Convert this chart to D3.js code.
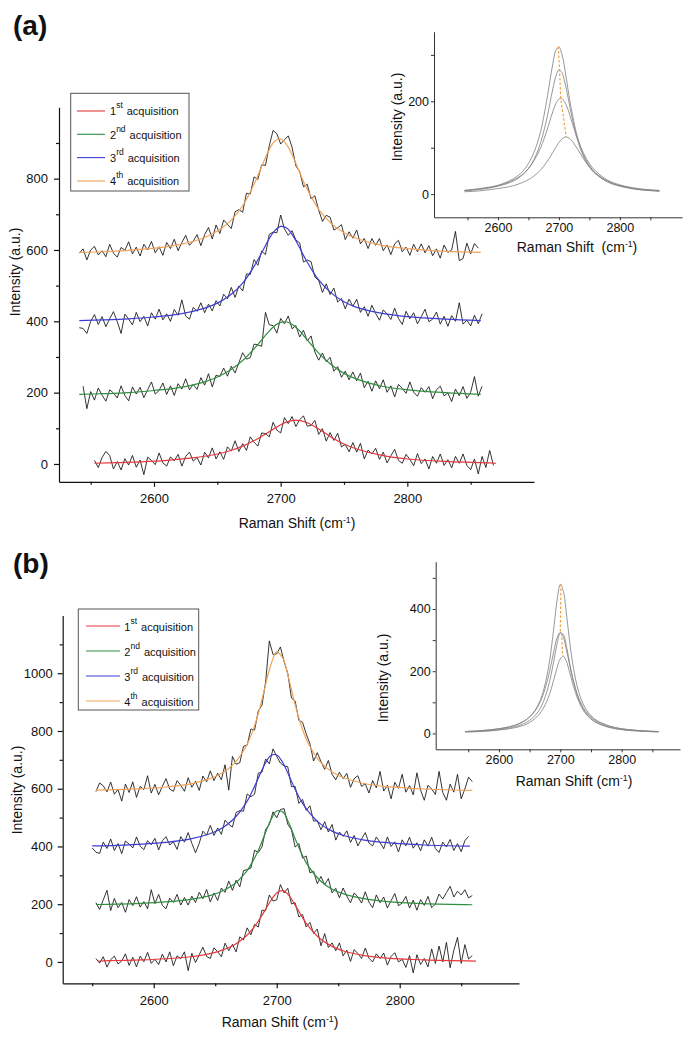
<!DOCTYPE html>
<html><head><meta charset="utf-8">
<script src="https://cdn.jsdelivr.net/npm/d3@7"></script>
<style>body{margin:0;background:#fff}svg{display:block}</style>
</head><body><svg id="c" width="685" height="1050"></svg>
<script>
// ---------- DATA ----------
const rawStep = 3;
// Panel (a) measured spectra (black), start wavenumber + intensities
const rawA1X0 = 2553;
const rawA1 = [10,-10,18,35,24,-14,7,-17,15,-3,24,-9,11,-30,19,10,-2,31,3,-6,20,9,27,-6,21,33,8,18,-3,33,17,45,14,34,13,48,36,65,35,57,38,76,61,50,87,85,76,117,95,87,130,113,133,105,124,135,106,108,122,83,99,64,88,66,86,48,55,34,60,33,58,14,39,28,44,13,33,3,23,41,10,2,27,13,-5,29,1,14,-14,21,2,28,-4,12,-11,21,2,28,-4,-16,14,-28,21,-10,38,-4];
const rawA2X0 = 2544;
const rawA2 = [218,155,203,179,213,193,176,208,199,185,219,192,177,216,196,215,186,208,230,196,206,227,195,219,192,225,210,239,208,223,209,242,221,253,216,249,245,269,246,274,255,284,312,294,298,336,334,330,425,390,388,367,408,393,415,379,388,356,375,345,359,314,291,311,287,299,260,273,243,260,236,258,233,255,214,232,204,233,211,236,201,219,188,223,212,198,230,201,190,214,201,217,183,208,218,191,199,175,210,191,217,184,201,245,190,218];
const rawA3X0 = 2541;
const rawA3 = [382,380,366,400,419,391,413,385,407,427,399,366,420,406,390,425,399,414,387,424,406,434,404,421,400,433,417,460,415,406,439,428,452,424,448,429,458,443,476,463,495,467,499,485,533,531,573,557,597,587,644,650,648,698,659,641,654,628,620,566,572,567,524,515,481,505,475,493,454,464,435,462,442,462,425,441,414,445,422,403,432,421,405,437,408,391,428,407,424,393,413,434,399,406,426,392,414,386,416,400,452,392,403,387,417,393,421];
const rawA4X0 = 2541;
const rawA4 = [591,603,572,600,610,586,598,581,616,591,580,607,599,623,589,608,583,616,600,624,592,609,585,621,604,630,598,621,641,613,625,643,612,643,663,631,670,646,684,672,660,707,713,706,759,757,805,798,839,837,892,935,926,897,909,920,888,836,820,777,784,743,752,712,680,697,692,656,662,671,629,651,633,656,617,632,604,632,613,632,598,614,587,617,627,595,608,585,616,595,617,592,612,584,603,577,614,593,600,652,570,576,619,589,618,605];

// Panel (b) measured spectra (black)
const rawB1X0 = 2553;
const rawB1 = [12,-4,18,-18,8,20,-7,3,28,-12,16,-17,20,1,33,-5,9,-9,27,0,35,-13,21,11,35,-30,30,-2,25,51,19,12,49,35,18,65,39,61,35,87,76,118,94,130,121,179,178,232,211,215,268,239,255,201,205,156,164,121,137,99,114,56,98,50,66,39,66,21,41,2,43,29,12,48,13,0,28,12,31,-11,19,32,0,9,-19,22,-38,25,-9,12,-17,45,-5,55,0,68,-20,40,85,-5,60,10,22];
const rawB2X0 = 2553;
const rawB2 = [205,182,215,248,178,220,188,206,172,216,195,226,190,209,184,250,202,234,196,184,221,206,234,197,223,197,228,206,241,219,251,208,239,213,256,241,280,248,283,260,316,320,325,387,379,398,459,476,520,499,528,531,477,458,398,410,360,367,309,314,271,296,267,289,239,255,222,256,228,205,239,225,204,243,207,188,232,205,225,187,212,237,195,204,227,187,214,179,216,196,227,188,201,235,218,240,262,225,245,232,250,222,230];
const rawB3X0 = 2550;
const rawB3 = [395,380,376,415,393,426,386,410,375,419,408,395,433,401,389,420,406,428,388,420,434,405,416,390,434,415,448,411,378,411,453,439,473,438,464,442,491,477,467,518,524,522,582,572,581,654,657,703,686,738,712,689,679,676,607,608,549,563,525,541,488,489,458,486,450,476,422,450,435,454,414,438,402,426,448,412,402,433,414,392,433,400,416,381,423,402,432,394,413,385,423,401,432,393,379,415,398,424,386,410,382,420,435];
const rawB4X0 = 2553;
const rawB4 = [590,620,610,589,623,581,597,557,616,587,624,570,608,597,645,585,615,579,608,635,599,591,628,612,591,638,605,626,594,644,624,662,628,654,631,683,595,712,685,690,747,751,807,803,869,889,970,1112,1065,1067,1091,1040,1000,914,904,837,830,790,756,696,725,694,667,698,650,631,657,635,653,605,635,645,608,617,585,628,603,660,592,612,565,622,601,650,588,611,579,655,595,560,612,599,580,660,587,560,616,588,650,565,599,640,625];

// Lorentzian fits
const fitAX = [2541,2560,2580,2600,2620,2640,2650,2660,2670,2680,2685,2690,2695,2700,2705,2710,2715,2720,2730,2740,2750,2760,2780,2800,2830,2858];
const fitA4 = [593,595,599,605,615,635,653,680,724,792,834,874,904,911,894,859,817,777,714,674,648,632,613,604,596,593];
const fitA3 = [402,404,407,412,420,437,451,473,507,560,592,626,653,666,661,638,606,572,516,479,455,439,422,413,406,402];
const fitA2 = [195,197,200,206,214,230,244,263,290,327,348,369,387,397,398,389,373,352,311,278,254,238,218,208,200,195];
const fitA1X = [2553,2570,2590,2610,2630,2650,2660,2670,2680,2690,2700,2705,2712,2720,2730,2740,2750,2760,2780,2800,2830,2870];
const fitA1 = [2,4,6,10,17,28,37,50,67,88,110,118,123,117,98,75,56,42,24,14,7,2];

// Lorentzian fits
const fitBX = [2553,2570,2590,2610,2630,2645,2655,2665,2675,2680,2685,2690,2695,2700,2705,2710,2715,2720,2725,2735,2745,2755,2770,2790,2820,2859];
const fitB4 = [595,597,600,606,617,634,653,685,746,794,860,943,1026,1074,1052,978,891,818,763,695,658,637,619,607,599,594];
const fitB2 = [199,200,203,208,217,229,244,268,311,344,386,438,490,523,519,480,427,377,336,283,252,235,220,209,202,198];
const fitB3X = [2550,2570,2590,2610,2630,2645,2655,2665,2675,2680,2685,2690,2695,2700,2705,2710,2715,2720,2725,2735,2745,2755,2770,2790,2820,2857];
const fitB3 = [402,404,408,414,426,443,462,495,550,590,636,682,714,717,690,645,598,557,525,480,453,437,423,413,405,401];
const fitB1X = [2555,2570,2590,2610,2630,2645,2655,2665,2675,2680,2685,2690,2695,2700,2705,2710,2715,2720,2725,2735,2745,2755,2770,2790,2820,2862];
const fitB1 = [3,5,7,11,18,28,40,58,89,112,141,175,211,239,247,230,197,161,128,81,54,37,23,13,7,3];

// Inset (a): baseline-subtracted fits
const insetAX = [2545,2570,2600,2625,2640,2650,2660,2670,2680,2685,2690,2695,2700,2705,2710,2715,2720,2730,2740,2750,2760,2780,2800,2830,2865];
const insetA4 = [8,12,19,33,48,66,93,135,202,242,281,310,317,301,267,225,186,125,86,62,46,28,18,11,7];
const insetA3 = [7,10,17,28,41,55,77,111,162,194,227,254,268,262,239,208,175,119,82,59,44,26,17,10,7];
const insetA2 = [8,11,18,30,42,55,74,100,136,157,178,195,205,206,197,182,161,121,89,66,50,30,20,12,8];
const insetA1 = [5,7,12,18,25,31,40,52,69,79,90,101,111,119,123,122,117,98,77,58,44,27,18,10,6];
const peakAX = [2699,2701,2703,2712];
const peakAY = [318,268,207,123];

// Inset (b)
const insetBX = [2545,2570,2600,2625,2640,2650,2660,2670,2680,2685,2690,2695,2700,2705,2710,2715,2720,2730,2740,2750,2760,2780,2800,2830,2860];
const insetB4 = [6,9,15,25,38,53,78,121,203,268,349,432,479,457,384,299,227,133,84,57,41,24,15,9,6];
const insetB3 = [6,9,15,26,39,53,75,114,178,222,269,309,325,309,269,222,178,114,75,53,39,23,15,9,6];
const insetB2 = [5,7,12,21,31,42,60,91,147,189,239,290,322,318,280,228,180,110,71,48,35,20,13,8,5];
const insetB1 = [5,6,11,18,26,35,50,73,113,142,177,213,240,248,231,198,162,103,67,46,33,19,12,7,5];
const peakBX = [2701,2700,2702,2704];
const peakBY = [480,327,323,248];

// Axis ticks / labels
const ticksXMajor = [2600,2700,2800];
const ticksXMinor = [2550,2650,2750,2850];
const ticksAYMajor = [0,200,400,600,800];
const ticksAYMinor = [100,300,500,700,900];
const ticksBYMajor = [0,200,400,600,800,1000];
const ticksBYMinor = [100,300,500,700,900,1100];
const ticksIAYMajor = [0,200], ticksIAYMinor = [100,300];
const ticksIBYMajor = [0,200,400], ticksIBYMinor = [100,300,500];
const legendLabels = [["1","st"],["2","nd"],["3","rd"],["4","th"]];
const fitColors = ["#e8383d","#2f8f3f","#3c3cd4","#f2a257"];

// ---------- DRAWING ----------
const FONT = '"Liberation Sans", Arial, Helvetica, sans-serif';
const svg = d3.select("#c").style("font-family", FONT);
const fmt = d3.format("d");

function styleAxis(g, fs, sw, col){
  g.attr("font-family", FONT).attr("font-size", fs);
  g.selectAll("path.domain").attr("stroke", col).attr("stroke-width", sw);
  g.selectAll("line").attr("stroke", col).attr("stroke-width", sw);
  g.selectAll("text").attr("fill", "#111");
}
function axes(x, y, yMaj, yMin, o){
  const gy = svg.append("g").attr("transform", `translate(${x.range()[0]},0)`);
  gy.call(d3.axisLeft(y).tickValues(yMaj).tickFormat(fmt).tickSize(o.tk).tickSizeOuter(0).tickPadding(o.pad));
  styleAxis(gy, o.fs, o.sw, o.col);
  const gy2 = svg.append("g").attr("transform", `translate(${x.range()[0]},0)`);
  gy2.call(d3.axisLeft(y).tickValues(yMin).tickSize(o.tkm).tickFormat(""));
  gy2.select("path.domain").remove(); styleAxis(gy2, o.fs, o.sw, o.col);
  const gx = svg.append("g").attr("transform", `translate(0,${y.range()[0]})`);
  gx.call(d3.axisBottom(x).tickValues(ticksXMajor).tickFormat(fmt).tickSize(o.tk).tickSizeOuter(0).tickPadding(o.padx));
  styleAxis(gx, o.fs, o.sw, o.col);
  const gx2 = svg.append("g").attr("transform", `translate(0,${y.range()[0]})`);
  gx2.call(d3.axisBottom(x).tickValues(ticksXMinor).tickSize(o.tkm).tickFormat(""));
  gx2.select("path.domain").remove(); styleAxis(gx2, o.fs, o.sw, o.col);
}
function rawLine(x, y, x0, vals){
  const line = d3.line().x((d,i)=>x(x0 + rawStep*i)).y(d=>y(d));
  svg.append("path").datum(vals).attr("d", line).attr("fill","none")
     .attr("stroke","#111").attr("stroke-width",0.85).attr("stroke-linejoin","round");
}
function fitLine(x, y, xs, ys, color, w){
  const line = d3.line().x((d,i)=>x(xs[i])).y(d=>y(d)).curve(d3.curveCatmullRom.alpha(0.5));
  svg.append("path").datum(ys).attr("d", line).attr("fill","none")
     .attr("stroke",color).attr("stroke-width",w);
}
function ytitle(cx, cy, fs){
  svg.append("text").attr("transform",`translate(${cx},${cy}) rotate(-90)`)
     .attr("text-anchor","middle").attr("dy","0.35em").attr("font-size",fs).attr("fill","#111")
     .text("Intensity (a.u.)");
}
function xtitle(cx, by, fs, dbl){
  const t = svg.append("text").attr("x",cx).attr("y",by).attr("text-anchor","middle")
     .attr("font-size",fs).attr("fill","#111");
  t.append("tspan").text(dbl ? "Raman Shift\u00a0\u00a0(cm" : "Raman Shift (cm");
  t.append("tspan").attr("dy",-5).attr("font-size",fs*0.62).text("-1");
  t.append("tspan").attr("dy",5).text(")");
}
function legend(bx, by, bw, bh, ys, lx0, lx1, tx, dyT){
  svg.append("rect").attr("x",bx).attr("y",by).attr("width",bw).attr("height",bh)
     .attr("fill","#fff").attr("stroke","#555").attr("stroke-width",1);
  ys.forEach((yy,i)=>{
    svg.append("line").attr("x1",lx0).attr("x2",lx1).attr("y1",yy).attr("y2",yy)
       .attr("stroke",fitColors[i]).attr("stroke-width",1.1);
    const t = svg.append("text").attr("x",tx).attr("y",yy+dyT).attr("font-size",11).attr("fill","#111");
    t.append("tspan").text(legendLabels[i][0]);
    t.append("tspan").attr("dy",-7).attr("font-size",8.5).text(legendLabels[i][1]);
    t.append("tspan").attr("dy",7).attr("dx",4).text("acquisition");
  });
}
function inset(x, y, yMaj, yMin, curves, xs, px, py){
  axes(x, y, yMaj, yMin, {tk:3, tkm:3, pad:2, padx:3, fs:12.5, sw:1, col:"#333"});
  curves.forEach(c => fitLine(x, y, xs, c, "#858585", 0.85));
  const dl = d3.line().x((d,i)=>x(px[i])).y(d=>y(d));
  svg.append("path").datum(py).attr("d", dl).attr("fill","none")
     .attr("stroke","#f0a040").attr("stroke-width",1.2).attr("stroke-dasharray","2.5,2");
}

// Panel labels
svg.append("text").attr("x",13).attr("y",35).attr("font-size",28).attr("font-weight","bold").attr("fill","#111").text("(a)");
svg.append("text").attr("x",13).attr("y",573).attr("font-size",28).attr("font-weight","bold").attr("fill","#111").text("(b)");

// ----- Panel (a) main -----
{
  const x = d3.scaleLinear().domain([2525,2900]).range([59,534]);
  const y = d3.scaleLinear().domain([-50,1000]).range([481.8,107.3]);
  axes(x, y, ticksAYMajor, ticksAYMinor, {tk:5, tkm:3, pad:6, padx:7, fs:13, sw:1.2, col:"#111"});
  rawLine(x,y,rawA1X0,rawA1); rawLine(x,y,rawA2X0,rawA2); rawLine(x,y,rawA3X0,rawA3); rawLine(x,y,rawA4X0,rawA4);
  fitLine(x,y,fitA1X,fitA1,fitColors[0],1.2);
  fitLine(x,y,fitAX,fitA2,fitColors[1],1.2);
  fitLine(x,y,fitAX,fitA3,fitColors[2],1.2);
  fitLine(x,y,fitAX,fitA4,fitColors[3],1.2);
  ytitle(15,272,14); xtitle(297,528,14,false);
  legend(70.7,93.3,118.3,97.7,[111,134.3,157.6,181],77,105,110,4.3);
}
// ----- Panel (a) inset -----
{
  const x = d3.scaleLinear().domain([2495,2902]).range([434,682]);
  const y = d3.scaleLinear().domain([-50,350]).range([217.3,31.7]);
  inset(x, y, ticksIAYMajor, ticksIAYMinor, [insetA1,insetA2,insetA3,insetA4], insetAX, peakAX, peakAY);
  ytitle(397,117,14); xtitle(577,252,14,true);
}
// ----- Panel (b) main -----
{
  const x = d3.scaleLinear().domain([2526,2897]).range([62.7,519]);
  const y = d3.scaleLinear().domain([-74,1200]).range([983.3,615.5]);
  axes(x, y, ticksBYMajor, ticksBYMinor, {tk:5, tkm:3, pad:5, padx:7, fs:13, sw:1.2, col:"#111"});
  rawLine(x,y,rawB1X0,rawB1); rawLine(x,y,rawB2X0,rawB2); rawLine(x,y,rawB3X0,rawB3); rawLine(x,y,rawB4X0,rawB4);
  fitLine(x,y,fitB1X,fitB1,fitColors[0],1.2);
  fitLine(x,y,fitBX,fitB2,fitColors[1],1.2);
  fitLine(x,y,fitB3X,fitB3,fitColors[2],1.2);
  fitLine(x,y,fitBX,fitB4,fitColors[3],1.2);
  ytitle(17.5,790,14); xtitle(280,1027,14,false);
  legend(78.3,609,120.4,101,[626,651,676,701],86,120,124.3,5);
}
// ----- Panel (b) inset -----
{
  const x = d3.scaleLinear().domain([2497,2895]).range([435.7,680]);
  const y = d3.scaleLinear().domain([-51,552]).range([749.3,561.7]);
  inset(x, y, ticksIBYMajor, ticksIBYMinor, [insetB1,insetB2,insetB3,insetB4], insetBX, peakBX, peakBY);
  ytitle(383,678,14); xtitle(574,786,14,false);
}
</script></body></html>
